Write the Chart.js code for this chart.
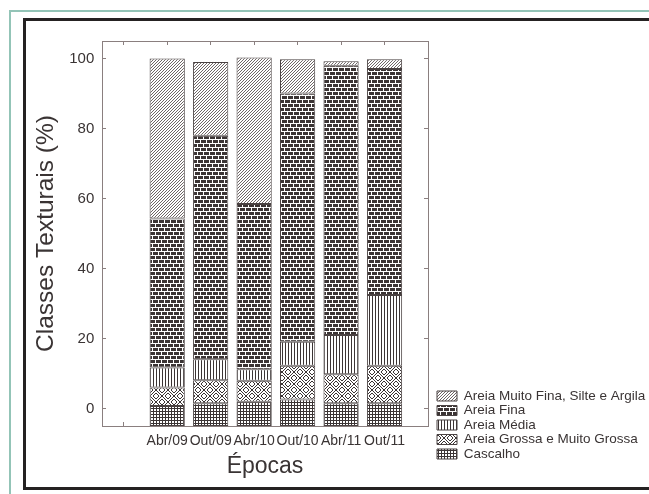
<!DOCTYPE html>
<html lang="pt">
<head>
<meta charset="utf-8">
<title>Classes Texturais por Época</title>
<script src="https://cdn.jsdelivr.net/npm/chart.js@4"></script>
<style>
  html, body { margin: 0; padding: 0; background: #fff; overflow: hidden; }
  #page { position: relative; width: 649px; height: 494px; }
  .outer { position: absolute; left: 9px; top: 10px; width: 700px; height: 600px; border: 2px solid #93c4b7; }
  .frame { position: absolute; left: 23px; top: 18px; width: 700px; height: 466px; border: 3px solid #252222; }
  #chart { position: absolute; left: 0; top: 0; }
</style>
</head>
<body>
<div id="page">
  <div class="outer"></div>
  <div class="frame"></div>
  <canvas id="chart" width="649" height="494"></canvas>
</div>
<script>
// Sampling campaigns; the first slot of the x axis is left empty
const epocas = ['Abr/09', 'Out/09', 'Abr/10', 'Out/10', 'Abr/11', 'Out/11'];
const xSlots = [''].concat(epocas);
const yTicks = [0, 20, 40, 60, 80, 100];
const Y_MIN = -5;
const Y_MAX = 105;

// Textural classes (%), bottom of the stack first
const cascalho      = [0.7, 1.5, 1.9, 2.6, 1.5, 1.5];
const areiaGrossa   = [5.3, 6.6, 6.0, 9.6, 8.3, 10.7];
const areiaMedia    = [5.7, 6.0, 3.3, 6.9, 11.2, 20.2];
const areiaFina     = [42.6, 63.8, 47.2, 70.9, 76.9, 64.6];
const areiaMuitoFina = [45.7, 21.1, 41.9, 9.8, 1.3, 2.8];

const TEXT = '#3a3434';
const AXIS = '#8a7f7f';
const INK = '#3b3434';
const HATCH = '#6e6666';
const EDGE = '#4a4242';

// Monochrome fill patterns
function makeTile(w, h, draw) {
  const c = document.createElement('canvas');
  c.width = w; c.height = h;
  const g = c.getContext('2d');
  g.fillStyle = '#fff';
  g.fillRect(0, 0, w, h);
  g.fillStyle = INK;
  draw(g);
  return g.createPattern(c, 'repeat');
}
const px = (g, x, y) => g.fillRect(x, y, 1, 1);

const patGrid = makeTile(3, 3, g => { g.fillRect(0, 0, 3, 1); g.fillRect(0, 0, 1, 3); });
const patVertical = makeTile(3, 1, g => { g.fillRect(0, 0, 1, 1); });
const patBrick = makeTile(12, 8, g => {
  g.fillRect(0, 0, 5, 3); g.fillRect(6, 0, 5, 3);
  g.fillRect(0, 4, 2, 3); g.fillRect(3, 4, 5, 3); g.fillRect(9, 4, 3, 3);
});
const patHatch = makeTile(3, 3, g => { g.fillStyle = HATCH; px(g, 2, 0); px(g, 1, 1); px(g, 0, 2); });
const patWeave = makeTile(12, 12, g => {
  for (let y = 0; y < 12; y++) {
    for (let x = 0; x < 12; x++) {
      const slash = (x < 6) === (y < 6);
      const lx = x % 6, ly = y % 6;
      const on = slash ? ((lx + ly) % 3 === 2) : ((lx - ly + 6) % 3 === 0);
      if (on) px(g, x, y);
    }
  }
});

const series = [
  { label: 'Cascalho', values: cascalho, fill: patGrid },
  { label: 'Areia Grossa e Muito Grossa', values: areiaGrossa, fill: patWeave },
  { label: 'Areia Média', values: areiaMedia, fill: patVertical },
  { label: 'Areia Fina', values: areiaFina, fill: patBrick },
  { label: 'Areia Muito Fina, Silte e Argila', values: areiaMuitoFina, fill: patHatch }
];

const datasets = series.map((s, k) => {
  const ds = {
    label: s.label,
    data: s.values.map((v, i) => ({ x: xSlots.indexOf(epocas[i]) + 1, y: v })),
    backgroundColor: s.fill,
    borderColor: EDGE,
    borderWidth: 1,
    borderSkipped: false,
    barPercentage: 1,
    categoryPercentage: 0.81
  };
  // bars rise from the bottom of the value axis
  if (k === 0) ds.base = Y_MIN;
  return ds;
});

const slotTicks = s => { s.ticks = xSlots.map((_, i) => ({ value: i + 1 })); };
const valueTicks = s => { s.ticks = yTicks.map(v => ({ value: v })); };
const frameGrid = { offset: false, drawOnChartArea: false, drawTicks: true, tickLength: -4, color: AXIS, lineWidth: 1 };
const frameBorder = { display: true, color: AXIS, width: 1 };

Chart.defaults.font.family = "'Liberation Sans', Arial, sans-serif";
Chart.defaults.color = TEXT;

new Chart(document.getElementById('chart'), {
  type: 'bar',
  data: { datasets },
  options: {
    responsive: false,
    animation: false,
    devicePixelRatio: 1,
    layout: { padding: { top: 41, bottom: 32.25, left: 0, right: 0 } },
    plugins: {
      tooltip: { enabled: false },
      legend: {
        position: 'right',
        align: 'end',
        reverse: true,
        maxWidth: 213,
        labels: { boxWidth: 20, boxHeight: 10, padding: 1, font: { size: 13.5 }, color: TEXT }
      }
    },
    scales: {
      x: {
        type: 'linear', position: 'bottom', stacked: true,
        min: 0.5, max: 8, offset: false,
        afterBuildTicks: slotTicks,
        afterFit: s => { s.height = 35.75; },
        ticks: {
          callback: v => xSlots[v - 1] ?? '',
          font: { size: 14 }, color: TEXT, padding: 10.75,
          maxRotation: 0, autoSkip: false
        },
        grid: frameGrid,
        border: frameBorder,
        title: { display: true, text: 'Épocas', font: { size: 23 }, color: TEXT, padding: { top: 0, bottom: -19 } }
      },
      x2: {
        type: 'linear', position: 'top',
        min: 0.5, max: 8, offset: false,
        afterBuildTicks: slotTicks,
        afterFit: s => { s.height = 0; },
        ticks: { display: false },
        grid: frameGrid,
        border: frameBorder
      },
      y: {
        type: 'linear', position: 'left', stacked: true,
        min: Y_MIN, max: Y_MAX,
        afterBuildTicks: valueTicks,
        afterFit: s => { s.width = 102; },
        ticks: { font: { size: 15 }, color: TEXT, padding: 11.7 },
        grid: frameGrid,
        border: frameBorder,
        title: { display: true, text: 'Classes Texturais (%)', font: { size: 24.5 }, color: TEXT, padding: { top: 31.8, bottom: 0 } }
      },
      y2: {
        type: 'linear', position: 'right',
        min: Y_MIN, max: Y_MAX,
        afterBuildTicks: valueTicks,
        afterFit: s => { s.width = 8; },
        ticks: { display: false },
        grid: frameGrid,
        border: frameBorder
      }
    }
  }
});
</script>
</body>
</html>
